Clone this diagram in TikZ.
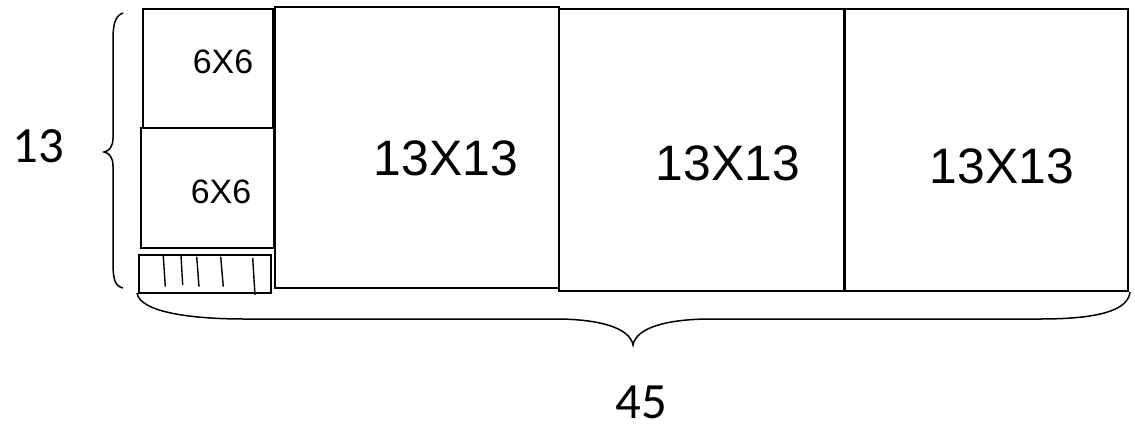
\documentclass[tikz,border=0pt]{standalone}
\usepackage{fontspec}
\setmainfont{Liberation Sans}
\newfontfamily\calib{Carlito}
\begin{document}
\begin{tikzpicture}[x=1bp,y=-1bp,line join=miter,
  cell/.style={draw=black,line width=1.7bp,inner sep=0pt,outer sep=0pt},
  biglabel/.style={inner sep=0pt,font=\fontsize{50}{56}\selectfont},
  smalllabel/.style={inner sep=0pt,font=\fontsize{34}{40}\selectfont},
  dimlabel/.style={inner sep=0pt,font=\calib\fontsize{51}{58}\selectfont},
  brace/.style={draw=black,line width=1.5bp},
  tick/.style={draw=black,line width=1.4bp}]
\useasboundingbox (0,0) rectangle (1135,426);
% cells
\draw[cell] (143,9) rectangle (273,128);
\draw[cell] (141,128) rectangle (274,248);
\draw[cell] (139,255) rectangle (271,293);
\draw[cell] (275,7) rectangle (559,288);
\draw[cell] (559,9) rectangle (844,291);
\draw[cell] (845,9) rectangle (1128,291);
% ticks in strip
\draw[tick] (163.3,256) -- (165.3,286.7);
\draw[tick] (181,256) -- (182.7,285);
\draw[tick] (196.7,256.7) -- (199,286.7);
\draw[tick] (220.7,256.7) -- (223.3,286.7);
\draw[tick] (252.7,258) -- (255,295);
% labels
\node[smalllabel] (s1) at (223,62) {6X6};
\node[smalllabel] (s2) at (221,192) {6X6};
\node[biglabel] (b1) at (446,158) {13X13};
\node[biglabel] (b2) at (728,163) {13X13};
\node[biglabel] (b3) at (1002,166) {13X13};
% left brace
\draw[brace] (123,13) .. controls (115,16) and (113,24) .. (113,40) -- (113,138)
  .. controls (113,147) and (109,151) .. (104,152)
  .. controls (109,153) and (113,157) .. (113,166) -- (113,262)
  .. controls (113,280) and (115,286) .. (123,288);
% bottom brace
\draw[brace] (137,293) .. controls (140,312) and (190,319) .. (245,319) -- (555,319)
  .. controls (600,319) and (630,328) .. (633,345)
  .. controls (636,328) and (666,319) .. (711,319) -- (1040,319)
  .. controls (1100,319) and (1128,310) .. (1130,292);
\node[dimlabel] (h) at (38,146.5) {13};
\node[dimlabel] (w) at (641,402) {45};
\end{tikzpicture}
\end{document}
